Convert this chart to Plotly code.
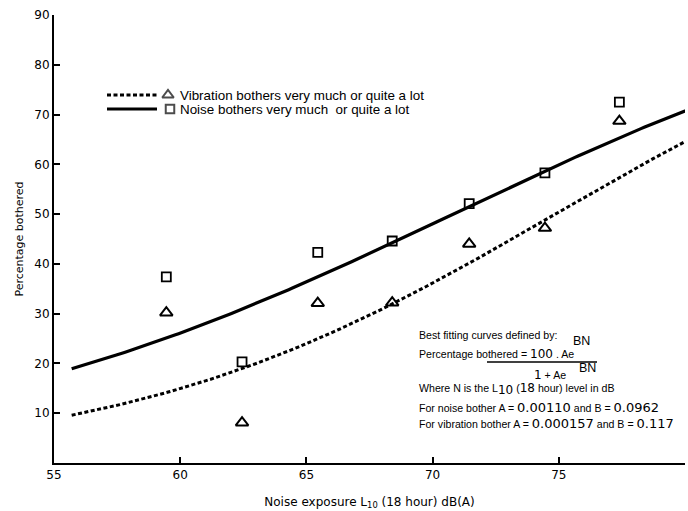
import numpy as np
import plotly.graph_objects as go

# Survey results: noise exposure (dB(A)) and percentage bothered
exposure = [59.45, 62.45, 65.45, 68.4, 71.45, 74.45, 77.4]
noise_bothered = [37.4, 20.3, 42.3, 44.6, 52.1, 58.3, 72.5]
vibration_bothered = [30.2, 8.1, 32.1, 32.2, 44.0, 47.2, 68.7]

# Logistic fit constants: P = 100*A*e^(BN) / (1 + A*e^(BN))
noise_A, noise_B = 0.00110, 0.0962
vib_A, vib_B = 0.000157, 0.117
curve_start, curve_end = 55.7, 80.5

x_ticks = [55, 60, 65, 70, 75, 80]
y_ticks = [10, 20, 30, 40, 50, 60, 70, 80, 90]

W, H = 688, 511
L, R, T, B = 54, 3, 15, 48
PW, PH = W - L - R, H - T - B


def px(x):
    return (x - L) / PW


def py(y):
    return (H - B - y) / PH


def fitted(A, Bc, n):
    g = A * np.exp(Bc * n)
    return 100 * g / (1 + g)


N = np.linspace(curve_start, curve_end, 200)
SANS = "Liberation Sans, Arial, sans-serif"
WIDE = "DejaVu Sans, sans-serif"


def num(s, size=12):
    # figures are set in a wider face than the surrounding words
    return f'<span style="font-family:DejaVu Sans;font-size:{size}px">{s}</span>'


fig = go.Figure()

fig.add_trace(go.Scatter(
    x=N, y=fitted(vib_A, vib_B, N), mode="lines",
    line=dict(color="black", width=3, dash="4px,2.5px"),
    hoverinfo="skip", showlegend=False))
fig.add_trace(go.Scatter(
    x=N, y=fitted(noise_A, noise_B, N), mode="lines",
    line=dict(color="black", width=3.2),
    hoverinfo="skip", showlegend=False))
fig.add_trace(go.Scatter(
    x=exposure, y=vibration_bothered, mode="markers",
    marker=dict(symbol="triangle-up-open", size=11, color="black",
                line=dict(width=2, color="black")),
    showlegend=False))
fig.add_trace(go.Scatter(
    x=exposure, y=noise_bothered, mode="markers",
    marker=dict(symbol="square-open", size=9, color="black",
                line=dict(width=1.8, color="black")),
    showlegend=False))

# Key markers on an overlay axis in paper units
fig.add_trace(go.Scatter(
    x=[px(168), px(170)], y=[py(95), py(109)], mode="markers",
    marker=dict(symbol=["triangle-up-open", "square-open"], size=[10, 8.5],
                color="black", line=dict(width=2, color="black")),
    xaxis="x2", yaxis="y2", hoverinfo="skip", showlegend=False))

shapes = [
    dict(type="line", xref="paper", yref="paper", x0=px(107), x1=px(157),
         y0=py(95), y1=py(95), line=dict(color="black", width=3, dash="4px,2.5px")),
    dict(type="line", xref="paper", yref="paper", x0=px(107), x1=px(157),
         y0=py(109), y1=py(109), line=dict(color="black", width=3.2)),
    dict(type="line", xref="paper", yref="paper", x0=px(487), x1=px(597),
         y0=py(362), y1=py(362), line=dict(color="black", width=1.5)),
]

annotations = []


def note(text, x, y, size=10.6, family=SANS):
    annotations.append(dict(
        text=text, xref="paper", yref="paper", x=px(x), y=py(y),
        xanchor="left", yanchor="middle", showarrow=False,
        font=dict(family=family, size=size, color="black")))


note("Vibration bothers very much or quite a lot", 178, 95, size=13.4)
note("Noise bothers very much  or quite a lot", 178, 109, size=13.4)

note("Best fitting curves defined by:", 417, 335)
note("BN", 571, 341, size=12.5)
note(f"Percentage bothered = {num('100')} . Ae", 417, 354)
note(f"{num('1')} + Ae", 532, 375)
note("BN", 577, 368, size=12.5)
note(f"Where N is the L<sub>{num('10', 12)}</sub> ({num('18')} hour) level in dB",
     417, 389)
note(f"For noise bother A = {num(f'{noise_A:.5f}', 13)} and B = {num(f'{noise_B}', 13)}",
     417, 407)
note(f"For vibration bother A = {num(f'{vib_A:.6f}', 13)} and B = {num(f'{vib_B}', 13)}",
     417, 423)

fig.update_layout(
    width=W, height=H,
    margin=dict(l=L, r=R, t=T, b=B),
    paper_bgcolor="white", plot_bgcolor="white",
    font=dict(family=WIDE, size=12, color="black"),
    shapes=shapes, annotations=annotations,
    xaxis=dict(
        range=[55, 80], tickvals=x_ticks, ticks="inside", ticklen=6,
        tickwidth=1.5, tickcolor="black", showline=True, linecolor="black",
        linewidth=2, showgrid=False, zeroline=False,
        tickfont=dict(family=WIDE, size=12),
        title=dict(text="Noise exposure L<sub>10</sub> (18 hour) dB(A)",
                   font=dict(family=WIDE, size=12), standoff=16)),
    yaxis=dict(
        range=[0, 90], tickvals=y_ticks, ticks="inside", ticklen=6,
        tickwidth=1.5, tickcolor="black", showline=True, linecolor="black",
        linewidth=2, showgrid=False, zeroline=False,
        tickfont=dict(family=WIDE, size=12),
        title=dict(text="Percentage bothered",
                   font=dict(family=WIDE, size=11), standoff=8)),
    xaxis2=dict(overlaying="x", range=[0, 1], visible=False, fixedrange=True),
    yaxis2=dict(overlaying="y", range=[0, 1], visible=False, fixedrange=True),
)

fig.write_html("out.html")
